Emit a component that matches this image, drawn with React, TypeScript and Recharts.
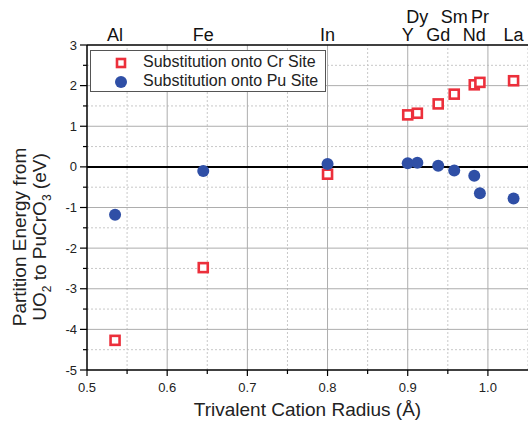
import { ScatterChart, Scatter, XAxis, YAxis, ReferenceLine, Legend } from 'recharts';

// Trivalent cation radii (Å) and element labels
const elements = ['Al', 'Fe', 'In', 'Y', 'Dy', 'Gd', 'Sm', 'Nd', 'Pr', 'La'];
const radii = [0.535, 0.645, 0.8, 0.9, 0.912, 0.938, 0.958, 0.983, 0.99, 1.032];

// Partition energies (eV)
const crSite = [-4.27, -2.48, -0.18, 1.28, 1.32, 1.55, 1.79, 2.02, 2.08, 2.12];
const puSite = [-1.18, -0.1, 0.07, 0.09, 0.1, 0.03, -0.09, -0.22, -0.65, -0.78];

const xMajorTicks = [0.5, 0.6, 0.7, 0.8, 0.9, 1.0];
const xMinorTicks = [0.55, 0.65, 0.75, 0.85, 0.95, 1.05];
const yMajorTicks = [-5, -4, -3, -2, -1, 0, 1, 2, 3];
const yMinorTicks = [-4.5, -3.5, -2.5, -1.5, -0.5, 0.5, 1.5, 2.5];

const raisedLabels = ['Dy', 'Sm', 'Pr'];

const FONT = '"Liberation Sans", Arial, sans-serif';
const RED = '#ec2f3b';
const BLUE = '#2f4fa6';

const crData = radii.map((r, i) => ({ x: r, y: crSite[i] }));
const puData = radii.map((r, i) => ({ x: r, y: puSite[i] }));

const BottomTick = (props: any) => {
  const { x, y, payload } = props;
  const major = xMajorTicks.some((t) => Math.abs(t - payload.value) < 1e-6);
  return (
    <g>
      <line x1={x} x2={x} y1={y} y2={y + (major ? 6 : 4)} stroke="#000" strokeWidth={1.2} />
      {major && (
        <text x={x} y={y + 22} textAnchor="middle" fontSize={13} fontFamily={FONT} fill="#222">
          {payload.value.toFixed(1)}
        </text>
      )}
    </g>
  );
};

const LeftTick = (props: any) => {
  const { x, y, payload } = props;
  const major = yMajorTicks.includes(payload.value);
  return (
    <g>
      <line x1={x} x2={x - (major ? 7 : 4)} y1={y} y2={y} stroke="#000" strokeWidth={1.2} />
      {major && (
        <text x={x - 10} y={y + 4.5} textAnchor="end" fontSize={13} fontFamily={FONT} fill="#222">
          {payload.value}
        </text>
      )}
    </g>
  );
};

const TopTick = (props: any) => {
  const { x, y, index } = props;
  const name = elements[index];
  const raised = raisedLabels.includes(name);
  return (
    <text x={x} y={y - (raised ? 22 : 4)} textAnchor="middle" fontSize={18} fontFamily={FONT} fill="#111">
      {name}
    </text>
  );
};

const YLabel = () => {
  const cy = 237;
  return (
    <g fontFamily={FONT} fontSize={19} fill="#222">
      <text x={26} y={cy} textAnchor="middle" transform={`rotate(-90, 26, ${cy})`}>
        Partition Energy from
      </text>
      <text x={46} y={cy} textAnchor="middle" transform={`rotate(-90, 46, ${cy})`}>
        UO<tspan fontSize={12} dy={5}>2</tspan>
        <tspan dy={-5}> to PuCrO</tspan>
        <tspan fontSize={12} dy={5}>3</tspan>
        <tspan dy={-5}> (eV)</tspan>
      </text>
    </g>
  );
};

const XLabel = (props: any) => {
  const { viewBox } = props;
  const cx = viewBox.x + viewBox.width / 2;
  return (
    <text x={cx} y={416} textAnchor="middle" fontSize={19} fontFamily={FONT} fill="#222">
      Trivalent Cation Radius (Å)
    </text>
  );
};

const RedSquare = (props: any) => {
  const { cx, cy } = props;
  return <rect x={cx - 4.5} y={cy - 4.5} width={9} height={9} fill="#fff" stroke={RED} strokeWidth={2.6} />;
};

const BlueDot = (props: any) => {
  const { cx, cy } = props;
  return <circle cx={cx} cy={cy} r={6} fill={BLUE} />;
};

const LegendBox = () => (
  <div
    style={{
      border: '1.2px solid #555',
      background: '#fff',
      width: 236,
      height: 42,
      boxSizing: 'border-box',
      fontFamily: FONT,
      fontSize: 16,
      color: '#222',
      position: 'relative',
    }}
  >
    <svg width={30} height={40} style={{ position: 'absolute', left: 18, top: 0 }}>
      <rect x={8} y={8} width={8} height={8} fill="#fff" stroke={RED} strokeWidth={2.6} />
      <circle cx={12} cy={31} r={6} fill={BLUE} />
    </svg>
    <div style={{ position: 'absolute', left: 52, top: 1, lineHeight: '19px' }}>
      <div>Substitution onto Cr Site</div>
      <div>Substitution onto Pu Site</div>
    </div>
  </div>
);

export default function App() {
  return (
    <div style={{ position: 'absolute', left: 0, top: 0, background: '#fff' }}>
      <ScatterChart width={528} height={425} margin={{ top: 0, right: 0, bottom: 0, left: 0 }}>
        <XAxis
          type="number"
          dataKey="x"
          xAxisId="bottom"
          domain={[0.5, 1.05]}
          ticks={[...xMajorTicks, ...xMinorTicks.slice(0, 5)]}
          interval={0}
          height={55}
          tickSize={0}
          tickMargin={0}
          tickLine={false}
          tick={<BottomTick />}
          axisLine={{ stroke: '#000', strokeWidth: 1.5 }}
          allowDataOverflow
          label={<XLabel />}
        />
        <XAxis
          type="number"
          dataKey="x"
          xAxisId="top"
          orientation="top"
          domain={[0.5, 1.05]}
          ticks={radii}
          interval={0}
          height={45}
          tickSize={0}
          tickMargin={0}
          tickLine={false}
          tick={<TopTick />}
          axisLine={{ stroke: '#000', strokeWidth: 1.5 }}
          allowDataOverflow
        />
        <YAxis
          type="number"
          dataKey="y"
          domain={[-5, 3]}
          ticks={[...yMajorTicks, ...yMinorTicks]}
          interval={0}
          width={87}
          tickSize={0}
          tickMargin={0}
          tickLine={false}
          tick={<LeftTick />}
          axisLine={{ stroke: '#000', strokeWidth: 1.5 }}
          label={<YLabel />}
        />
        {xMinorTicks.map((v) => (
          <ReferenceLine key={`xm${v}`} x={v} xAxisId="bottom" stroke="#c8c8c8" strokeDasharray="2 2" />
        ))}
        {yMinorTicks.map((v) => (
          <ReferenceLine key={`ym${v}`} y={v} xAxisId="bottom" stroke="#c8c8c8" strokeDasharray="2 2" />
        ))}
        {xMajorTicks.slice(1).map((v) => (
          <ReferenceLine key={`xM${v}`} x={v} xAxisId="bottom" stroke="#adadad" />
        ))}
        {yMajorTicks.slice(1, -1).filter((v) => v !== 0).map((v) => (
          <ReferenceLine key={`yM${v}`} y={v} xAxisId="bottom" stroke="#adadad" />
        ))}
        <ReferenceLine y={0} xAxisId="bottom" stroke="#000" strokeWidth={2} />
        <Legend
          layout="horizontal"
          verticalAlign="middle"
          align="center"
          content={<LegendBox />}
          wrapperStyle={{ position: 'absolute', left: 90, top: 50, width: 236, height: 42 }}
        />
        <Scatter
          name="Substitution onto Cr Site"
          data={crData}
          xAxisId="bottom"
          shape={<RedSquare />}
          isAnimationActive={false}
        />
        <Scatter
          name="Substitution onto Pu Site"
          data={puData}
          xAxisId="bottom"
          shape={<BlueDot />}
          isAnimationActive={false}
        />
      </ScatterChart>
    </div>
  );
}
